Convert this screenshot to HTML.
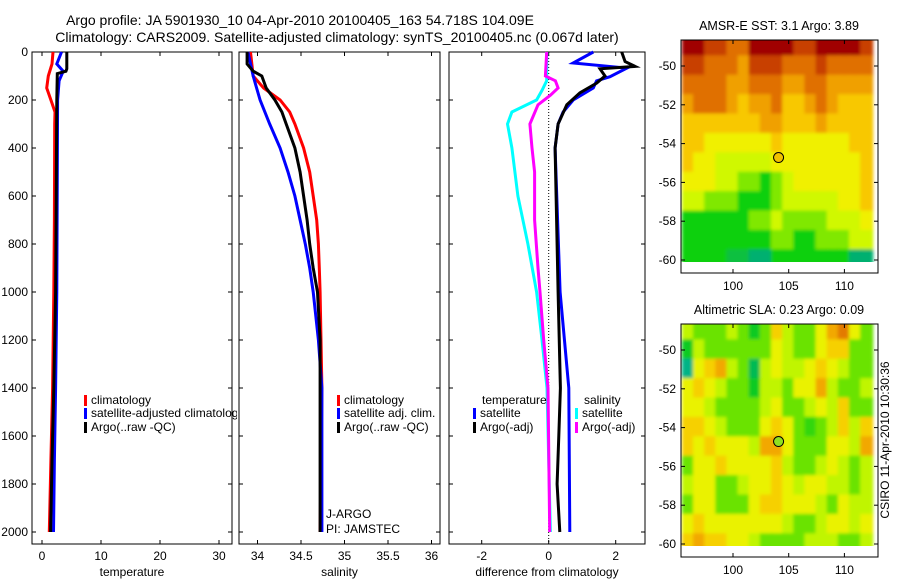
<!DOCTYPE html>
<html><head><meta charset="utf-8">
<style>
html,body{margin:0;padding:0;background:#fff;}
svg{display:block;font-family:"Liberation Sans",sans-serif;}
text{font-size:12px;fill:#000;}
</style></head>
<body>
<svg id="c" width="900" height="580" viewBox="0 0 900 580" xmlns="http://www.w3.org/2000/svg">
<defs>
<clipPath id="cp1"><rect x="681" y="40" width="197" height="222"/></clipPath>
<clipPath id="cp2"><rect x="681" y="324" width="197" height="222"/></clipPath>
<clipPath id="cpl"><rect x="0" y="0" width="237" height="580"/></clipPath>
<filter id="bl" x="-5%" y="-5%" width="110%" height="110%"><feGaussianBlur stdDeviation="1.5"/></filter>
</defs>
<text x="300" y="25" text-anchor="middle" style="font-size:14px">Argo profile: JA 5901930_10 04-Apr-2010 20100405_163 54.718S 104.09E</text>
<text x="337" y="42" text-anchor="middle" style="font-size:14px">Climatology: CARS2009. Satellite-adjusted climatology: synTS_20100405.nc (0.067d later)</text>
<g id="g"></g>
</svg>
<script>
// ---- data ----
const depthTicks=[0,200,400,600,800,1000,1200,1400,1600,1800,2000];
const tempTicks=[0,10,20,30];
const salTicks=[34,34.5,35,35.5,36];
const salTickLabels=["34","34.5","35","35.5","36"];
const diffTicks=[-2,0,2];
const clim_temp_depth=[0,50,100,150,200,250,300,700,1000,1400,1700,2000];
const clim_temp=[1.86,1.7,1.07,0.8,1.5,2.2,2.15,2.1,2.0,1.8,1.5,1.24];
const sat_temp_depth=[0,50,80,120,200,1000,1400,1700,2000];
const sat_temp=[3.3,2.5,3.6,2.9,2.65,2.5,2.3,2.1,1.95];
const argo_temp_depth=[0,70,80,90,200,1000,1400,1700,2000];
const argo_temp=[4.2,4.2,4.05,2.6,2.5,2.3,2.0,1.7,1.45];
const clim_sal_depth=[0,100,150,200,250,300,400,500,600,700,800,900,1000,1400,2000];
const clim_sal=[33.92,33.95,34.07,34.26,34.37,34.43,34.53,34.6,34.64,34.68,34.7,34.71,34.72,34.74,34.72];
const argo_sal_depth=[0,50,80,100,150,200,250,300,400,500,600,700,800,900,1000,1200,2000];
const argo_sal=[33.88,33.88,33.95,34.05,34.1,34.2,34.28,34.33,34.43,34.49,34.53,34.57,34.6,34.64,34.69,34.72,34.72];
const sat_sal_depth=[0,100,150,200,300,400,500,600,700,800,900,1000,1200,1400,2000];
const sat_sal=[33.89,33.95,33.99,34.03,34.14,34.26,34.35,34.43,34.49,34.55,34.6,34.64,34.7,34.74,34.74];
const dsal_sat_depth=[0,120,160,200,250,300,400,600,800,1000,1200,1400,2000];
const dsal_sat=[-0.06,-0.06,-0.2,-0.36,-1.1,-1.23,-1.1,-0.92,-0.62,-0.36,-0.2,-0.05,0.05];
const dsal_argo_depth=[0,100,120,150,180,220,300,400,500,700,900,1000,1200,1400,2000];
const dsal_argo=[-0.06,-0.1,0.2,0.28,0.05,-0.32,-0.56,-0.5,-0.42,-0.42,-0.32,-0.26,-0.15,-0.02,0.03];
const dtemp_sat_depth=[0,46,67,103,120,150,200,250,300,400,1000,1400,2000];
const dtemp_sat=[1.33,0.73,2.33,1.83,1.43,1.33,0.73,0.43,0.28,0.19,0.34,0.6,0.63];
const dtemp_argo_depth=[0,40,60,70,100,130,170,220,300,400,1000,1400,1600,1800,2000];
const dtemp_argo=[2.18,2.28,2.58,1.53,1.68,1.43,0.93,0.54,0.28,0.19,0.28,0.35,0.3,0.25,0.33];
const lonTicks=[100,105,110];
const latTicks=[-50,-52,-54,-56,-58,-60];
const sst=[
[10,10,9,9,8,8,10,10,10,10,9,9,10,10,10,10,9],
[9,9,8,8,8,7,9,9,9,8,8,8,9,8,8,8,8],
[8,8,8,8,7,7,8,8,8,7,7,8,8,7,7,7,7],
[7,8,8,8,7,6,7,7,8,6,6,7,8,7,6,6,6],
[6,6,6,6,6,6,6,7,7,6,6,6,7,6,6,6,6],
[6,6,5,5,5,5,5,5,6,5,5,5,5,5,5,6,6],
[6,5,5,4,4,4,4,4,5,5,5,5,5,5,5,5,6],
[5,5,5,4,4,3,3,2,3,4,5,5,5,5,5,5,6],
[4,4,3,3,3,2,2,2,3,4,4,4,4,4,5,5,6],
[2,2,2,2,2,2,3,3,4,3,3,3,3,4,4,4,5],
[2,2,2,2,2,2,2,2,3,3,2,2,3,3,3,4,4],
[2,2,2,2,1.5,1.5,1,1,2,2,2,2,2,2,2,1,1]];
const sla=[
[3,2,2,2,3,2,1,2,5,3,2,2,4,6,7,4,2],
[1,3,2,2,2,2,2,2,4,3,2,2,4,5,5,2,2],
[0,4,5,6,3,2,0.5,3,4,3,3,4,5,4,3,2,2],
[4,5,4,3,2,2,1,3,3,2,4,4,6,3,2,2,3],
[4,4,3,2,2,2,2,3,4,2,2,3,4,3,5,2,2],
[5,5,4,3,2,2,2,4,5,4,2,1.5,2,3,5,3,5],
[5,4,5,4,4,4,3,6,6,4,2,2,2,4,4,3,6],
[2,4,4,5,4,4,4,4,5,3,2,2,3,4,3,2,3],
[3,4,4,2,2,3,4,4,5,4,3,4,4,3,3,2,3],
[2,4,4,2,2,2,4,5,5,4,4,4,3,2,4,3,3],
[4,5,4,4,4,4,4,4,4,3,2,2,3,4,4,3,4],
[5,6,5,5,4,4,3,2,2,2,2,3,3,3,2,2,3]];
const floatLon=104.09, floatLat=-54.718;

// ---- drawing ----
const NS="http://www.w3.org/2000/svg";
const G=document.getElementById('g');
function el(tag,attrs,parent){const e=document.createElementNS(NS,tag);for(const k in attrs)e.setAttribute(k,attrs[k]);(parent||G).appendChild(e);return e;}
const axTop=52, axBottom=544;
const yd=d=>axTop+d*0.24;
const panels=[
 {name:'temperature',x0:32,x1:232,f:v=>42+v*5.9,ticks:tempTicks,labels:tempTicks.map(String),xlabel:'temperature'},
 {name:'salinity',x0:239,x1:440,f:v=>257.5+(v-34)*87,ticks:salTicks,labels:salTickLabels,xlabel:'salinity'},
 {name:'difference',x0:449,x1:645,f:v=>548.7+v*33.5,ticks:diffTicks,labels:diffTicks.map(String),xlabel:'difference from climatology'}];
panels.forEach((p,pi)=>{
  const fr=el('rect',{x:p.x0,y:axTop,width:p.x1-p.x0,height:axBottom-axTop,fill:'none',stroke:'#000','stroke-width':1});
  
  
  p.ticks.forEach((t,i)=>{
    const x=p.f(t);
    el('line',{x1:x,x2:x,y1:axBottom,y2:axBottom-4,stroke:'#000'});
    el('line',{x1:x,x2:x,y1:axTop,y2:axTop+4,stroke:'#000'});
    const tx=el('text',{x:x,y:axBottom+16,'text-anchor':'middle'});tx.textContent=p.labels[i];
    
    
  });
  depthTicks.forEach(d=>{
    el('line',{x1:p.x0,x2:p.x0+4,y1:yd(d),y2:yd(d),stroke:'#000'});
    el('line',{x1:p.x1,x2:p.x1-4,y1:yd(d),y2:yd(d),stroke:'#000'});
    if(pi===0){const tx=el('text',{x:p.x0-4,y:yd(d)+4,'text-anchor':'end'});tx.textContent=String(d);
      
      }
  });
  const xl=el('text',{x:(p.x0+p.x1)/2,y:axBottom+32,'text-anchor':'middle'});xl.textContent=p.xlabel;
  
  
});
el('line',{x1:548.7,x2:548.7,y1:axTop,y2:axBottom,stroke:'#000','stroke-dasharray':'1,2'});
function line(p,ds,vs,color,name){
  const pts=ds.map((d,i)=>p.f(vs[i]).toFixed(1)+','+yd(d).toFixed(1)).join(' ');
  const pl=el('polyline',{points:pts,fill:'none',stroke:color,'stroke-width':3,'stroke-linejoin':'miter'});
  
  
}
line(panels[0],clim_temp_depth,clim_temp,'#f00','climatology-temperature-line');
line(panels[0],sat_temp_depth,sat_temp,'#00f','satellite-temperature-line');
line(panels[0],argo_temp_depth,argo_temp,'#000','argo-temperature-line');
line(panels[1],clim_sal_depth,clim_sal,'#f00','climatology-salinity-line');
line(panels[1],sat_sal_depth,sat_sal,'#00f','satellite-salinity-line');
line(panels[1],argo_sal_depth,argo_sal,'#000','argo-salinity-line');
line(panels[2],dsal_sat_depth,dsal_sat,'#0ff','salinity-satellite-diff-line');
line(panels[2],dsal_argo_depth,dsal_argo,'#f0f','salinity-argo-diff-line');
line(panels[2],dtemp_sat_depth,dtemp_sat,'#00f','temperature-satellite-diff-line');
line(panels[2],dtemp_argo_depth,dtemp_argo,'#000','temperature-argo-diff-line');

function legend(x,y,color,label,name,clip){
  if(color){const r=el('rect',{x:x,y:y-9,width:3,height:11,fill:color});
    
    }
  const t=el('text',{x:x+7,y:y});t.textContent=label;
  if(clip)t.setAttribute('clip-path','url(#cpl)');
  
  
}
legend(84,404,'#f00','climatology','legend-climatology',true);
legend(84,417,'#00f','satellite-adjusted climatology','legend-satellite-adjusted',true);
legend(84,431,'#000','Argo(..raw -QC)','legend-argo-raw',true);
legend(337,404,'#f00','climatology','legend-sal-climatology');
legend(337,417,'#00f','satellite adj. clim.','legend-sal-satellite');
legend(337,431,'#000','Argo(..raw -QC)','legend-sal-argo');
legend(475,404,null,'temperature','legend-temperature-header');
legend(473,417,'#00f','satellite','legend-temp-satellite');
legend(473,431,'#000','Argo(-adj)','legend-temp-argo');
legend(577,404,null,'salinity','legend-salinity-header');
legend(575,417,'#0ff','satellite','legend-sal-satellite-diff');
legend(575,431,'#f0f','Argo(-adj)','legend-sal-argo-diff');
const ja=el('text',{x:326,y:518});ja.textContent='J-ARGO';


const pi2=el('text',{x:326,y:533});pi2.textContent='PI: JAMSTEC';



// ---- maps ----
const stops=[[0,[32,192,224]],[1,[0,176,112]],[2,[16,208,16]],[3,[128,232,0]],[4,[208,248,0]],[5,[240,240,0]],[6,[248,200,0]],[7,[240,160,0]],[8,[224,112,0]],[9,[200,64,0]],[10,[160,0,0]]];
function cmap(v){v=Math.max(0,v);for(let i=0;i<stops.length-1;i++){const a=stops[i],b=stops[i+1];if(v<=b[0]){const t=(v-a[0])/(b[0]-a[0]);return 'rgb('+a[1].map((c,k)=>Math.round(c+(b[1][k]-c)*t)).join(',')+')';}}return 'rgb(160,0,0)';}
const lx=lon=>733+(lon-100)*11.14;
function drawMap(grid,shift,off,clip,title,name){
  const ly=lat=>66+off+(-50-lat)*19.4;
  const g=el('g',{'clip-path':'url(#'+clip+')'});
  
  
  const gi=el('g',{filter:'url(#bl)'},g);
  grid.forEach((row,j)=>row.forEach((v,i)=>{
    const lon=96+i, lat=-49-j;
    const r=el('rect',{x:lx(lon-0.5)-1,y:ly(lat+0.5)-1,width:11.14+2,height:19.4+2,fill:cmap(v+shift)},gi);
    
    
  }));
  el('rect',{x:681,y:262+off,width:197,height:11,fill:'#fff'});
  const fr=el('rect',{x:681,y:40+off,width:197,height:233,fill:'none',stroke:'#000'});
  
  
  lonTicks.forEach(l=>{const x=lx(l);el('line',{x1:x,x2:x,y1:273+off,y2:269+off,stroke:'#000'});el('line',{x1:x,x2:x,y1:40+off,y2:44+off,stroke:'#000'});
    const t=el('text',{x:x,y:290+off,'text-anchor':'middle'});t.textContent=String(l);
    
    });
  latTicks.forEach(l=>{const y=ly(l);el('line',{x1:681,x2:685,y1:y,y2:y,stroke:'#000'});el('line',{x1:878,x2:874,y1:y,y2:y,stroke:'#000'});
    const t=el('text',{x:676,y:y+4,'text-anchor':'end'});t.textContent=String(l);
    
    });
  const c=el('circle',{cx:lx(floatLon),cy:ly(floatLat),r:5,fill:grid===sst?'#f0c000':'#90e020',stroke:'#000','stroke-width':1});
  
  
  const tt=el('text',{x:779,y:30+off,'text-anchor':'middle',style:'font-size:12.5px'});tt.textContent=title;
  
  
}
drawMap(sst,0,0,'cp1','AMSR-E SST: 3.1 Argo: 3.89','sst-map');
drawMap(sla,0.8,284,'cp2','Altimetric SLA: 0.23 Argo: 0.09','sla-map');
const cs=el('text',{x:0,y:0,transform:'translate(889,440) rotate(-90)','text-anchor':'middle'});
cs.textContent='CSIRO 11-Apr-2010 10:30:36';


</script>
</body></html>
